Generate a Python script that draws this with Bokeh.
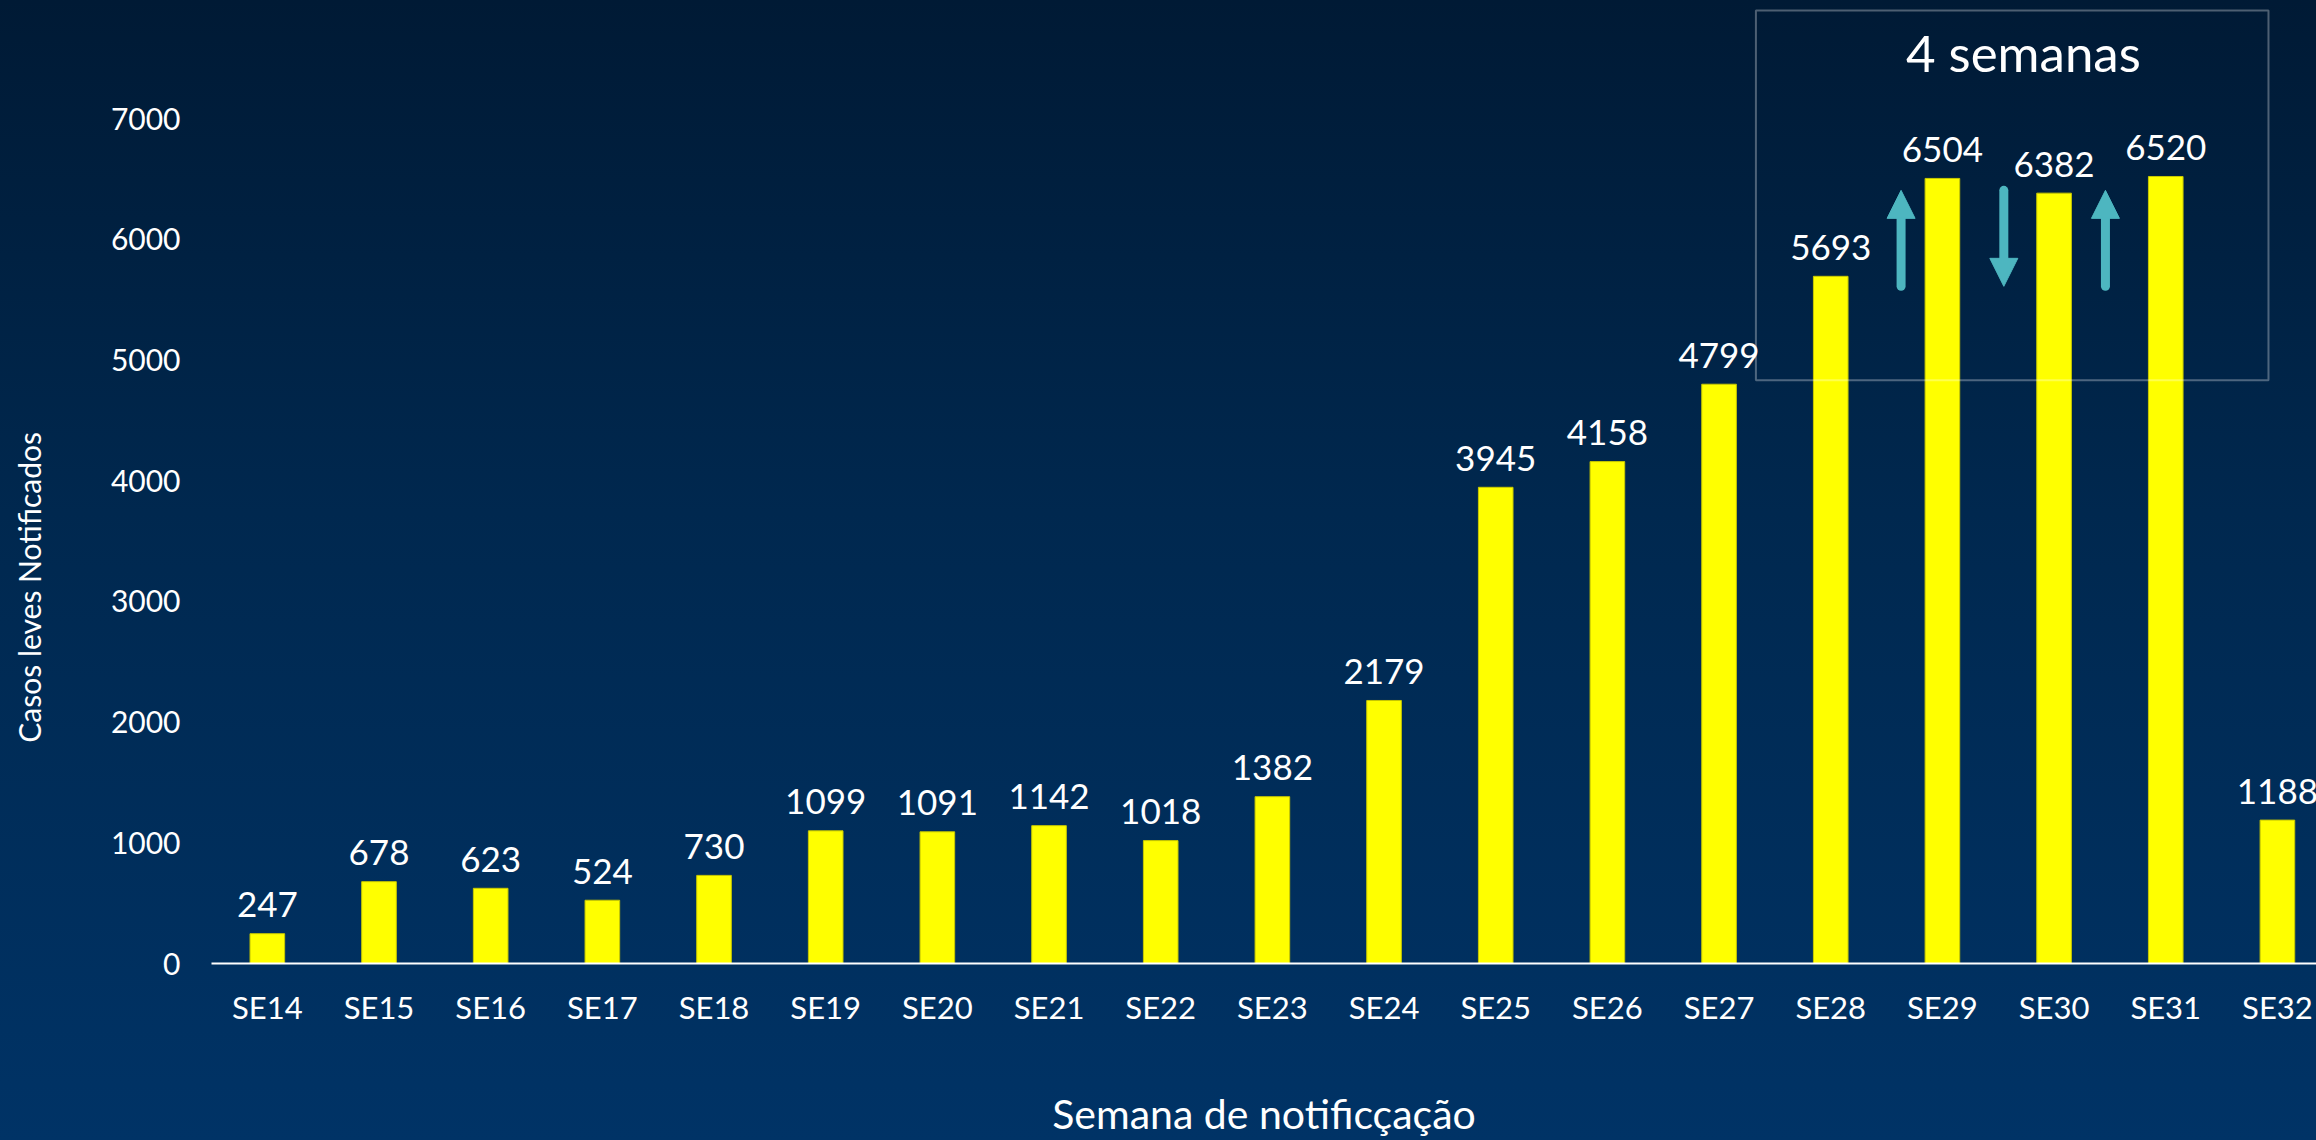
import math
from bokeh.plotting import figure
from bokeh.layouts import row
from bokeh.models import (FixedTicker, ColumnDataSource, BoxAnnotation, Label,
                          Arrow, NormalHead, GlobalInlineStyleSheet)
from bokeh.core.properties import value
from bokeh.embed import file_html
from bokeh.resources import INLINE

# ---------------- data ----------------
weeks = ["SE14", "SE15", "SE16", "SE17", "SE18", "SE19", "SE20", "SE21", "SE22", "SE23",
         "SE24", "SE25", "SE26", "SE27", "SE28", "SE29", "SE30", "SE31", "SE32"]
cases = [247, 678, 623, 524, 730, 1099, 1091, 1142, 1018, 1382,
         2179, 3945, 4158, 4799, 5693, 6504, 6382, 6520, 1188]
y_ticks = [0, 1000, 2000, 3000, 4000, 5000, 6000, 7000]
highlight_weeks = ["SE28", "SE29", "SE30", "SE31"]
highlight_text = "4 semanas"
x_title = "Semana de notificçação"
y_title = "Casos leves  Notificados"

# ---------------- style ----------------
FONT = "Lato"
WHITE = "#ffffff"
YELLOW = "#ffff00"
TEAL = "#4db6c0"
W, H = 2316, 1140
SIDE_W = 60
BOTTOM = 177                 # border below the plot frame
FRAME_H = H - BOTTOM

css = GlobalInlineStyleSheet(css="""
html { background: linear-gradient(180deg, #001a35 0%, #00284f 45%, #003366 100%) fixed;
       min-height: 100%; }
body { background: transparent; }
""")

def bare(fig):
    fig.background_fill_color = None
    fig.border_fill_color = None
    fig.outline_line_color = None
    fig.grid.visible = False

# ---- narrow strip holding the vertical axis title ----
side = figure(width=SIDE_W, height=H, output_backend="svg", toolbar_location=None,
              x_range=(0, SIDE_W), y_range=(0, FRAME_H), x_axis_location=None,
              y_axis_location=None, min_border=0, min_border_bottom=BOTTOM)
bare(side)
side.add_layout(Label(x=28, y=FRAME_H - 583, text=y_title, angle=math.pi / 2,
                      text_align="center", text_baseline="middle", text_color=WHITE,
                      text_font=FONT, text_font_size="30px"))

# ---- main chart ----
xs = list(range(len(weeks)))
src = ColumnDataSource(dict(x=xs, top=cases, label=[str(v) for v in cases]))

p = figure(width=W - SIDE_W, height=H, output_backend="svg", toolbar_location=None,
           x_range=(-0.5, 18.35), y_range=(0, 7978),
           min_border_left=211 - SIDE_W, min_border_right=0, min_border_top=0,
           min_border_bottom=BOTTOM)
bare(p)

p.vbar(x="x", top="top", width=0.31, source=src, fill_color=YELLOW,
       line_color="#c8c800", line_width=1)

p.text(x="x", y="top", text="label", source=src, text_align="center",
       text_baseline="alphabetic", y_offset=-29, text_color=WHITE,
       text_font=value(FONT), text_font_size="35px")

# x axis
xa = p.xaxis[0]
xa.ticker = FixedTicker(ticks=xs)
xa.major_label_overrides = {i: w for i, w in enumerate(weeks)}
xa.axis_line_color = WHITE
xa.axis_line_width = 2
xa.major_tick_line_color = None
xa.minor_tick_line_color = None
xa.major_tick_in = 0
xa.major_tick_out = 0
xa.major_label_standoff = 24
xa.major_label_text_color = WHITE
xa.major_label_text_font = FONT
xa.major_label_text_font_size = "31px"
xa.axis_label = x_title
xa.axis_label_text_color = WHITE
xa.axis_label_text_font = FONT
xa.axis_label_text_font_size = "41px"
xa.axis_label_text_font_style = "normal"
xa.axis_label_standoff = 60

# y axis
ya = p.yaxis[0]
ya.ticker = FixedTicker(ticks=y_ticks)
ya.axis_line_color = None
ya.major_tick_line_color = None
ya.minor_tick_line_color = None
ya.major_tick_in = 0
ya.major_tick_out = 0
ya.major_label_standoff = 31
ya.major_label_text_color = WHITE
ya.major_label_text_font = FONT
ya.major_label_text_font_size = "30px"

# highlight box around the 4 weeks
hi = [weeks.index(w) for w in highlight_weeks]
box_left = hi[0] - 0.67
box_right = hi[-1] + 0.92
p.add_layout(BoxAnnotation(left=box_left, right=box_right, bottom=4832, top=7895,
                           fill_alpha=0, line_color=WHITE, line_width=2))
p.add_layout(Label(x=(box_left + box_right) / 2 + 0.1, y=7545, text=highlight_text,
                   text_align="center", text_baseline="alphabetic", text_color=WHITE,
                   text_font=FONT, text_font_size="51px"))

# arrows between consecutive highlighted weeks
low, high = 5610, 6405
head_len = 190          # data units covered by the arrow head
shifts = [0.13, 0.05, -0.04]
ax, tail, tip, neck = [], [], [], []
for k in range(len(hi) - 1):
    a, b = hi[k], hi[k + 1]
    up = cases[b] > cases[a]
    ax.append((a + b) / 2 + shifts[k])
    tail.append(low if up else high)
    tip.append(high if up else low)
    neck.append(high - head_len if up else low + head_len)
asrc = ColumnDataSource(dict(x=ax, tail=tail, tip=tip, neck=neck))
p.segment(x0="x", y0="tail", x1="x", y1="neck", source=asrc,
          line_color=TEAL, line_width=9, line_cap="round")
p.add_layout(Arrow(end=NormalHead(size=28, fill_color=TEAL, line_color=TEAL, line_width=1),
                   x_start="x", y_start="tail", x_end="x", y_end="tip", source=asrc,
                   line_color=None))

layout = row(side, p, spacing=0)
layout.stylesheets = [css]

open("out.html", "w").write(file_html(layout, INLINE))
